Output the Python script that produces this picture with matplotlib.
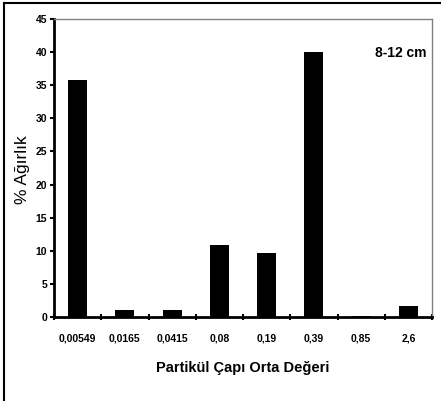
import matplotlib.pyplot as plt
import matplotlib.lines as mlines
import numpy as np

categories = ['0,00549', '0,0165', '0,0415', '0,08', '0,19', '0,39', '0,85', '2,6']
values = [35.8, 1.0, 1.0, 10.8, 9.7, 40.0, 0.2, 1.7]
yticks = [0, 5, 10, 15, 20, 25, 30, 35, 40, 45]

narrow = ['Liberation Sans Narrow', 'Liberation Sans', 'DejaVu Sans']
plt.rcParams['font.family'] = narrow

fig = plt.figure(figsize=[4.41, 4.01], dpi=100)
ax = fig.add_axes([54/441, 1-317/401, 378/441, 298/401])

x = np.arange(len(categories))
ax.bar(x, values, width=0.4, color='black')

ax.set_xlim(-0.5, len(categories) - 0.5)
ax.set_ylim(0, 45)
ax.set_yticks(yticks)
ax.set_yticklabels([str(v) for v in yticks], fontsize=7.5, fontweight='bold')

# category labels centred under bars, ticks at the boundaries
ax.set_xticks(np.arange(len(categories) + 1) - 0.5)
ax.set_xticklabels([])
ax.set_xticks(x, minor=True)
ax.set_xticklabels(categories, minor=True, fontsize=7.5, fontweight='bold')
ax.tick_params(axis='x', which='minor', length=0, pad=12)
ax.tick_params(axis='x', which='major', direction='inout', length=5, width=1.5)
ax.tick_params(axis='y', direction='out', length=3, width=1.5, pad=2)

for side in ['left', 'bottom']:
    ax.spines[side].set_linewidth(2)
    ax.spines[side].set_color('black')
for side in ['top', 'right']:
    ax.spines[side].set_linewidth(1)
    ax.spines[side].set_color('#808080')

fig.text(22/441, 1 - 170/401, '% Ağırlık', rotation=90, ha='center', va='center',
         fontsize=12.5, family=['Liberation Sans', 'DejaVu Sans'])
fig.text(0.5 * (54 + 432) / 441, 1 - 368/401, 'Partikül Çapı Orta Değeri',
         ha='center', va='center', fontsize=10.5, fontweight='bold')
ax.text(0.985, 0.885, '8-12 cm', transform=ax.transAxes, ha='right', va='center',
        fontsize=10, fontweight='bold')

# outer frame: only left and top edges show
fig.add_artist(mlines.Line2D([4/441, 4/441], [0, 1 - 3/401], color='black', lw=1.5))
fig.add_artist(mlines.Line2D([4/441, 1], [1 - 3/401, 1 - 3/401], color='black', lw=1.5))

plt.savefig('out.png', dpi=100)
